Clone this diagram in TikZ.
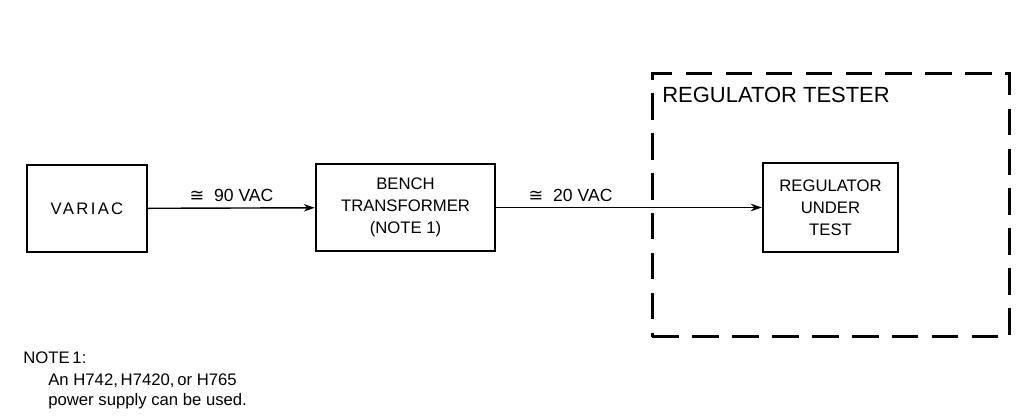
\documentclass[tikz,border=0pt]{standalone}
\usepackage{amsmath,amssymb}
\usepackage{fontspec}
\setmainfont{Liberation Sans}
\newfontfamily\symfont{DejaVu Sans}
\usetikzlibrary{arrows.meta}

\begin{document}
\begin{tikzpicture}[x=0.02cm,y=-0.02cm,
    blk/.style={draw,line width=1.4pt,inner sep=0pt,align=center,
      font=\fontsize{9.5}{12.5}\selectfont},
    tester/.style={draw,line width=1.7pt,dash pattern=on 0.53cm off 0.27cm},
    volts/.style={above=3pt,inner sep=0pt,font=\fontsize{10}{12}\selectfont},
    notetext/.style={anchor=north west,inner sep=0pt,align=left,
      font=\fontsize{9.5}{11.4}\selectfont}]
        \useasboundingbox (0,0) rectangle (1024,418);

        \node[blk,minimum width=2.4cm,minimum height=1.74cm] (variac) at (87,208.5)
          {\addfontfeature{LetterSpace=14}VARIAC};
        \node[blk,minimum width=3.58cm,minimum height=1.74cm] (bench) at (405.5,207.5)
          {BENCH\\TRANSFORMER\\(NOTE 1)};
        \node[blk,minimum width=2.7cm,minimum height=1.78cm] (rut) at (830.5,207.5)
          {REGULATOR\\UNDER\\TEST};

        \node[tester,minimum width=7.16cm,minimum height=5.28cm] (tester) at (831,205) {};
        \node[anchor=north west,inner sep=0pt,font=\fontsize{12.5}{14}\selectfont]
          (testerlabel) at (662,87) {REGULATOR TESTER};

        \path[-{Stealth[length=2.2mm,width=1.5mm]},line width=0.8pt]

        (variac) edge node[volts] {{\symfont ≅}\ \ 90\ VAC} (bench)

        (bench) edge node[volts,pos=0.28] {{\symfont ≅}\ \ 20\ VAC} (rut)

        ;

        \node[notetext] (note) at (23,351) {NOTE\,1:};
        \node[notetext] (notebody) at (48,373)
          {An H742,\,H7420,\,or H765\\power supply can be used.};
\end{tikzpicture}
\end{document}
